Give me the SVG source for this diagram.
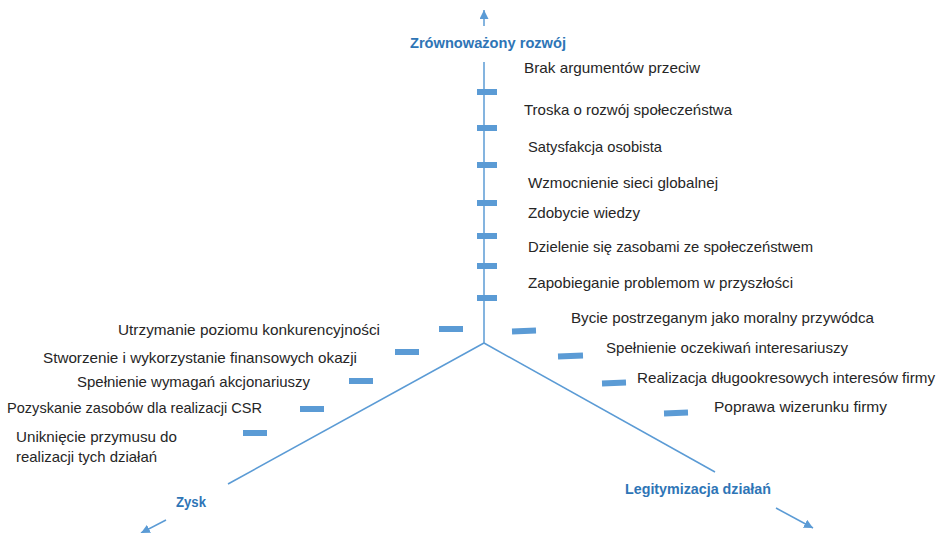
<svg xmlns="http://www.w3.org/2000/svg" width="938" height="533" viewBox="0 0 938 533">
<style>
.ax{stroke:#5B9BD5;stroke-width:1.5;fill:none}
.tk{fill:#5B9BD5}
.lb{font-family:"Liberation Sans",Arial,sans-serif;font-size:14.5px;fill:#262626}
.ttl{font-family:"Liberation Sans",Arial,sans-serif;font-size:14.5px;font-weight:bold;fill:#2E75B6}
</style>
<defs>
<marker id="ah" markerUnits="userSpaceOnUse" markerWidth="10" markerHeight="9" refX="9" refY="4.5" orient="auto">
<path d="M0,0 L9,4.5 L0,9 z" fill="#5B9BD5"/>
</marker>
</defs>
<rect width="938" height="533" fill="#fff"/>
<g id="connectors">
<line class="ax" x1="484" y1="343" x2="484" y2="62"/>
<line class="ax" x1="484" y1="26" x2="484" y2="10" marker-end="url(#ah)"/>
<line class="ax" x1="484" y1="343" x2="228" y2="484"/>
<line class="ax" x1="166" y1="520" x2="141" y2="533" marker-end="url(#ah)"/>
<line class="ax" x1="484" y1="343" x2="715" y2="472"/>
<line class="ax" x1="776" y1="508" x2="813" y2="528" marker-end="url(#ah)"/>
</g>
<g id="axis-zrownowazony">
<text class="ttl" x="410" y="48" textLength="156" lengthAdjust="spacingAndGlyphs">Zrównoważony rozwój</text>
</g>
<g id="axis-zysk">
<text class="ttl" x="176" y="507" textLength="30" lengthAdjust="spacingAndGlyphs">Zysk</text>
</g>
<g id="axis-legitymizacja">
<text class="ttl" x="625" y="494" textLength="146" lengthAdjust="spacingAndGlyphs">Legitymizacja działań</text>
</g>
<g id="v1"><text class="lb" x="524" y="73" textLength="176" lengthAdjust="spacingAndGlyphs">Brak argumentów przeciw</text><rect class="tk" x="477" y="89" width="20" height="6"/></g>
<g id="v2"><text class="lb" x="524" y="115" textLength="208" lengthAdjust="spacingAndGlyphs">Troska o rozwój społeczeństwa</text><rect class="tk" x="477" y="125" width="20" height="6"/></g>
<g id="v3"><text class="lb" x="528" y="152" textLength="134" lengthAdjust="spacingAndGlyphs">Satysfakcja osobista</text><rect class="tk" x="477" y="162" width="20" height="6"/></g>
<g id="v4"><text class="lb" x="528" y="188" textLength="190" lengthAdjust="spacingAndGlyphs">Wzmocnienie sieci globalnej</text><rect class="tk" x="477" y="200" width="20" height="6"/></g>
<g id="v5"><text class="lb" x="528" y="218" textLength="112" lengthAdjust="spacingAndGlyphs">Zdobycie wiedzy</text><rect class="tk" x="477" y="233" width="20" height="6"/></g>
<g id="v6"><text class="lb" x="528" y="252" textLength="285" lengthAdjust="spacingAndGlyphs">Dzielenie się zasobami ze społeczeństwem</text><rect class="tk" x="477" y="263" width="20" height="6"/></g>
<g id="v7"><text class="lb" x="528" y="288" textLength="265" lengthAdjust="spacingAndGlyphs">Zapobieganie problemom w przyszłości</text><rect class="tk" x="477" y="295" width="20" height="6"/></g>
<g id="r1"><text class="lb" x="571" y="323" textLength="303" lengthAdjust="spacingAndGlyphs">Bycie postrzeganym jako moralny przywódca</text><rect class="tk" x="512" y="328" width="24" height="6" transform="rotate(-2 524 331)"/></g>
<g id="r2"><text class="lb" x="606" y="353" textLength="242" lengthAdjust="spacingAndGlyphs">Spełnienie oczekiwań interesariuszy</text><rect class="tk" x="558" y="353" width="25" height="6" transform="rotate(-2 570 356)"/></g>
<g id="r3"><text class="lb" x="637" y="383" textLength="298" lengthAdjust="spacingAndGlyphs">Realizacja długookresowych interesów firmy</text><rect class="tk" x="602" y="380" width="24" height="6" transform="rotate(-2 614 383)"/></g>
<g id="r4"><text class="lb" x="714" y="412" textLength="173" lengthAdjust="spacingAndGlyphs">Poprawa wizerunku firmy</text><rect class="tk" x="664" y="410" width="24" height="6" transform="rotate(-2 676 413)"/></g>
<g id="l1"><text class="lb" x="118" y="335" textLength="262" lengthAdjust="spacingAndGlyphs">Utrzymanie poziomu konkurencyjności</text><rect class="tk" x="439" y="326" width="24" height="6"/></g>
<g id="l2"><text class="lb" x="43" y="363" textLength="314" lengthAdjust="spacingAndGlyphs">Stworzenie i wykorzystanie finansowych okazji</text><rect class="tk" x="395" y="349" width="24" height="6"/></g>
<g id="l3"><text class="lb" x="77" y="387" textLength="233" lengthAdjust="spacingAndGlyphs">Spełnienie wymagań akcjonariuszy</text><rect class="tk" x="349" y="378" width="24" height="6"/></g>
<g id="l4"><text class="lb" x="7" y="413" textLength="255" lengthAdjust="spacingAndGlyphs">Pozyskanie zasobów dla realizacji CSR</text><rect class="tk" x="300" y="406" width="24" height="6"/></g>
<g id="l5"><text class="lb" x="16" y="442" textLength="161" lengthAdjust="spacingAndGlyphs">Uniknięcie przymusu do</text><text class="lb" x="16" y="462" textLength="141" lengthAdjust="spacingAndGlyphs">realizacji tych działań</text><rect class="tk" x="243" y="430" width="24" height="6"/></g>
</svg>
